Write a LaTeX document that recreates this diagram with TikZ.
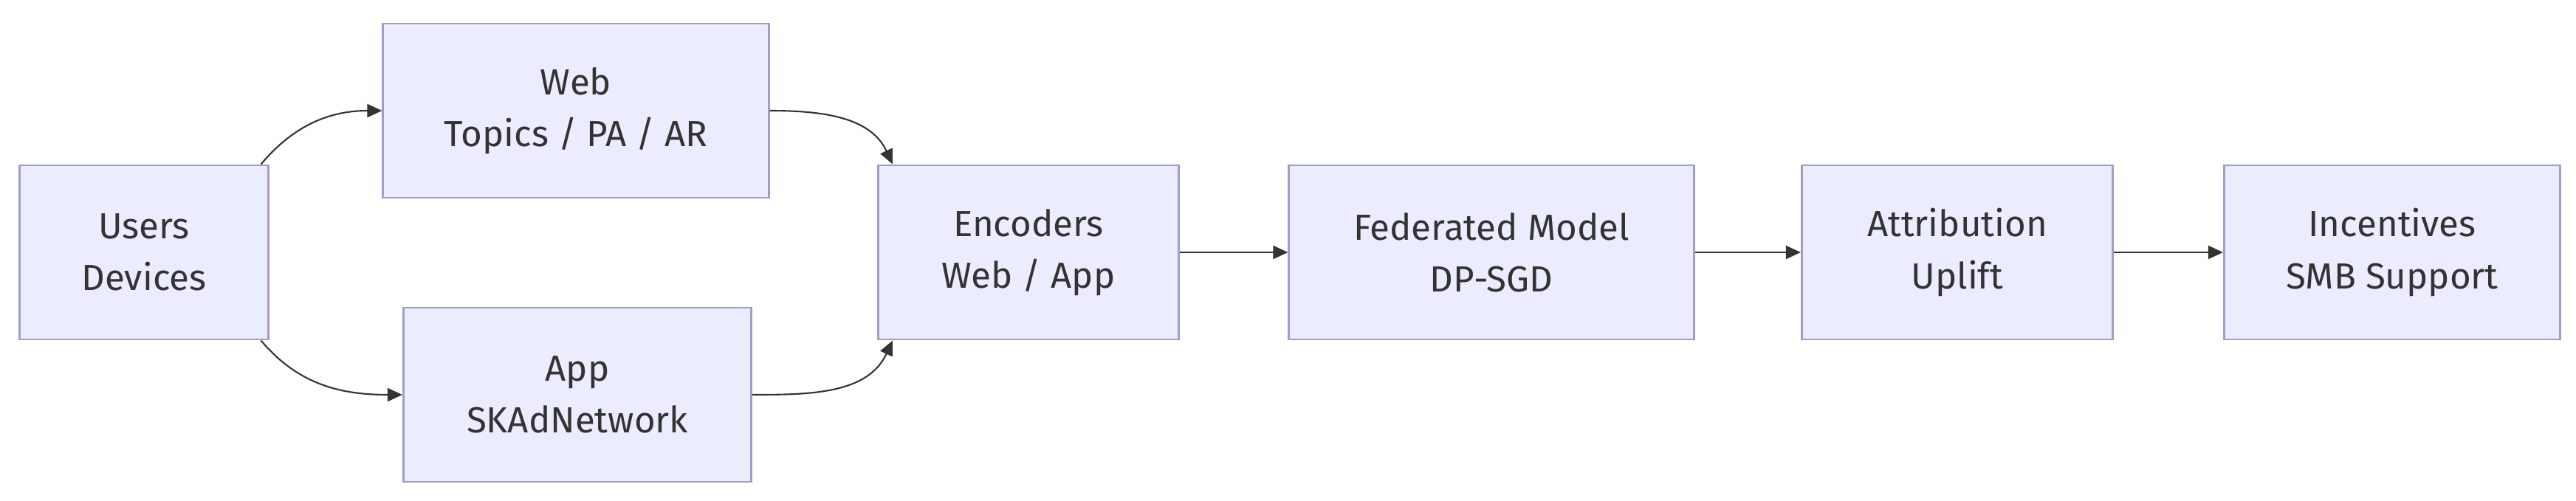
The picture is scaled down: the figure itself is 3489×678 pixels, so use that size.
\documentclass[tikz,border=0pt]{standalone}
\usepackage{fontspec}
\setmainfont{Fira Sans}
\usetikzlibrary{arrows.meta}
\definecolor{boxfill}{HTML}{ECECFF}
\definecolor{boxline}{HTML}{A29CCB}
\definecolor{ink}{HTML}{333333}
\tikzset{every node/.style={font=\fontsize{14}{20}\selectfont, text=ink},
  box/.style={draw=boxline, fill=boxfill, line width=0.8pt, align=center, minimum height=2.36cm, inner sep=0pt},
  link/.style={ink, line width=0.6pt, -{Triangle[length=0.2cm,width=0.18cm]}}}

\begin{document}
\begin{tikzpicture}[x=0.01cm,y=-0.01cm]
   \useasboundingbox (0,0) rectangle (3489,678);
   \node[box, minimum width=3.36cm] (users) at (195,342) {Users\\Devices};
   \node[box, minimum width=5.22cm] (web) at (780,150) {Web\\Topics / PA / AR};
   \node[box, minimum width=4.71cm] (app) at (782,535) {App\\SKAdNetwork};
   \node[box, minimum width=4.07cm] (enc) at (1393,342) {Encoders\\Web / App};
   \node[box, minimum width=5.48cm] (fed) at (2020,342) {Federated Model\\DP-SGD};
   \node[box, minimum width=4.21cm] (attr) at (2651,342) {Attribution\\Uplift};
   \node[box, minimum width=4.55cm] (inc) at (3240,342) {Incentives\\SMB Support};
   \draw[link] (users.37) to[out=50,in=180] (web.west);
   \draw[link] (users.323) to[out=-50,in=180] (app.west);
   \draw[link] (web.east) to[out=0,in=115] (enc.147);
   \draw[link] (app.east) to[out=0,in=245] (enc.213);
   \draw[link] (enc) -- (fed);
   \draw[link] (fed) -- (attr);
   \draw[link] (attr) -- (inc);
\end{tikzpicture}
\end{document}
